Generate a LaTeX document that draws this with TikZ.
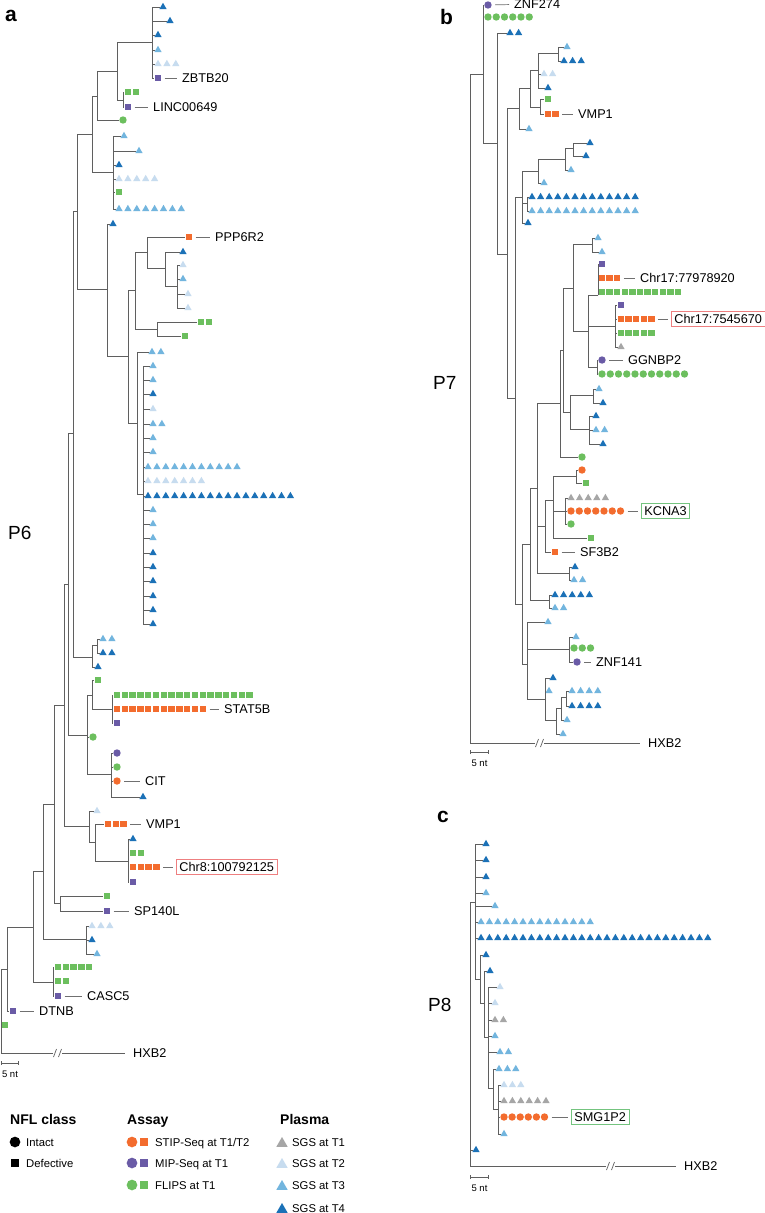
\documentclass[tikz,border=0pt]{standalone}
\usepackage{fontspec}
\setmainfont{Liberation Sans}
\usetikzlibrary{shapes.geometric, arrows.meta, calc}
\definecolor{Branch}{HTML}{5F5F5F}
\definecolor{Lead}{HTML}{707070}
\definecolor{StipOr}{HTML}{F36C2E}
\definecolor{MipPu}{HTML}{6A5BA6}
\definecolor{FlipGr}{HTML}{6CBF5E}
\definecolor{SgsGray}{HTML}{A6A6A6}
\definecolor{SgsPale}{HTML}{C7DCEF}
\definecolor{SgsMid}{HTML}{72B5DE}
\definecolor{SgsDeep}{HTML}{1B71B7}
\definecolor{BoxRed}{HTML}{EE7F80}
\definecolor{BoxGreen}{HTML}{74C47F}

% rows of tip markers: name, style, x, y, count, spacing
\def\tgap{8.9}\def\sgap{7.8}\def\cgap{8.2}
\newcommand{\tiprow}[6]{%
  \foreach \kk in {1,...,#5}{\node[#2] (#1-\kk) at ({#3+(\kk-1)*#6},#4) {};}}
\newcommand{\tris}[5]{\tiprow{#1}{#2}{#3}{#4}{#5}{\tgap}}
\newcommand{\sqrs}[5]{\tiprow{#1}{#2}{#3}{#4}{#5}{\sgap}}
\newcommand{\cirs}[5]{\tiprow{#1}{#2}{#3}{#4}{#5}{\cgap}}
% elbow branches from a parent to its children
\newcommand{\twig}[2]{\foreach \kid in {#2}{\draw[branch] (#1) |- (\kid);}}

\begin{document}
\begin{tikzpicture}[x=1pt, y=-1pt,
  branch/.style={draw=Branch, line width=0.75pt},
  lead/.style={draw=Lead, line width=0.7pt, shorten <=3pt, shorten >=5pt},
  boxlead/.style={lead, shorten >=3pt},
  hxb/.style={branch, shorten >=8pt},
  slash/.style={draw=Branch, line width=0.7pt},
  scalebar/.style={draw=Branch, line width=0.6pt, {Bar[width=4pt]}-{Bar[width=4pt]}},
  mk/.style={inner sep=0pt, outer sep=0.5pt, draw=none},
  tri/.style={mk, regular polygon, regular polygon sides=3, minimum size=8.4pt, yshift=-1pt},
  sqr/.style={mk, rectangle, minimum size=6.4pt},
  cir/.style={mk, circle, minimum size=7.4pt},
  triT1/.style={tri, fill=SgsGray}, triT2/.style={tri, fill=SgsPale},
  triT3/.style={tri, fill=SgsMid}, triT4/.style={tri, fill=SgsDeep},
  sqO/.style={sqr, fill=StipOr}, sqP/.style={sqr, fill=MipPu}, sqG/.style={sqr, fill=FlipGr},
  ciO/.style={cir, fill=StipOr}, ciP/.style={cir, fill=MipPu}, ciG/.style={cir, fill=FlipGr},
  lab/.style={font=\fontsize{12.7}{15}\selectfont, inner sep=0pt, text height=9.1pt, text depth=0pt, anchor=west},
  boxlab/.style={lab, inner sep=3pt, draw=#1, line width=0.8pt},
  scl/.style={font=\fontsize{9.5}{11}\selectfont, inner sep=0pt, text height=6.8pt, text depth=0pt},
  pid/.style={font=\fontsize{19}{22}\selectfont, inner sep=0pt, text height=13.6pt, text depth=0pt, anchor=west},
  plet/.style={font=\fontsize{21}{24}\selectfont\bfseries, inner sep=0pt, anchor=west},
  lghead/.style={font=\fontsize{14}{16}\selectfont\bfseries, inner sep=0pt, text height=10pt, text depth=0pt, anchor=west},
  lgtext/.style={font=\fontsize{11.3}{13}\selectfont, inner sep=0pt, text height=8.1pt, text depth=0pt, anchor=west},
  lgCi/.style={mk, circle, minimum size=10.7pt},
  lgSq/.style={mk, rectangle, minimum size=8.6pt},
  lgTri/.style={mk, regular polygon, regular polygon sides=3, minimum size=13pt, yshift=-1.5pt}
]
\useasboundingbox[fill=white] (0,0) rectangle (765,1213);

%% ---------------- panel a : P6 ----------------
\node[plet] (letA) at (5,16) {a};
\node[pid] (idA) at (8,533) {P6};
\def\tgap{8.9}\def\sgap{7.8}\def\cgap{8.2}
\tris{a1}{triT4}{163}{6}{1}
\tris{a2}{triT4}{170}{20}{1}
\tris{a3}{triT4}{158}{34}{1}
\tris{a4}{triT3}{158}{49}{1}
\tris{a5}{triT2}{158}{63}{3}
\sqrs{a6}{sqP}{158}{78}{1}
\sqrs{a7}{sqG}{128}{92}{2}
\sqrs{a8}{sqP}{128}{107}{1}
\cirs{a9}{ciG}{123}{120}{1}
\tris{a10}{triT3}{124}{135}{1}
\tris{a11}{triT3}{139}{150}{1}
\tris{a12}{triT4}{119}{164}{1}
\tris{a13}{triT2}{119}{178}{5}
\sqrs{a14}{sqG}{119}{192}{1}
\tris{a15}{triT3}{119}{208}{8}
\tris{a16}{triT4}{113}{223}{1}
\sqrs{a17}{sqO}{189}{237}{1}
\tris{a18}{triT4}{183}{251}{1}
\tris{a19}{triT2}{183}{264}{1}
\tris{a20}{triT3}{183}{278}{1}
\tris{a21}{triT2}{188}{293}{1}
\tris{a22}{triT2}{188}{307}{1}
\sqrs{a23}{sqG}{201}{322}{2}
\sqrs{a24}{sqG}{185}{336}{1}
\tris{a25}{triT3}{152}{351}{2}
\tris{a26}{triT3}{153}{365}{1}
\tris{a27}{triT3}{153}{379}{1}
\tris{a28}{triT4}{153}{393}{1}
\tris{a29}{triT2}{153}{408}{1}
\tris{a30}{triT3}{153}{423}{2}
\tris{a31}{triT3}{153}{437}{1}
\tris{a32}{triT3}{153}{451}{1}
\tris{a33}{triT3}{148}{466}{11}
\tris{a34}{triT2}{148}{480}{7}
\tris{a35}{triT4}{148}{495}{17}
\tris{a36}{triT3}{153}{509}{1}
\tris{a37}{triT3}{153}{523}{1}
\tris{a38}{triT3}{153}{537}{1}
\tris{a39}{triT4}{153}{552}{1}
\tris{a40}{triT4}{153}{566}{1}
\tris{a41}{triT4}{153}{580}{1}
\tris{a42}{triT4}{153}{595}{1}
\tris{a43}{triT4}{153}{609}{1}
\tris{a44}{triT4}{153}{623}{1}
\tris{a45}{triT3}{103}{638}{2}
\tris{a46}{triT4}{103}{652}{2}
\tris{a47}{triT4}{98}{666}{1}
\sqrs{a48}{sqG}{98}{680}{1}
\sqrs{a49}{sqG}{117}{695}{18}
\sqrs{a50}{sqO}{117}{709}{12}
\sqrs{a51}{sqP}{117}{723}{1}
\cirs{a52}{ciG}{93}{737}{1}
\cirs{a53}{ciP}{117}{753}{1}
\cirs{a54}{ciG}{117}{767}{1}
\cirs{a55}{ciO}{117}{781}{1}
\tris{a56}{triT4}{143}{796}{1}
\tris{a57}{triT2}{97}{810}{1}
\sqrs{a58}{sqO}{108}{824}{3}
\tris{a59}{triT4}{133}{838}{1}
\sqrs{a60}{sqG}{133}{853}{2}
\sqrs{a61}{sqO}{133}{867}{4}
\sqrs{a62}{sqP}{133}{882}{1}
\sqrs{a63}{sqG}{107}{896}{1}
\sqrs{a64}{sqP}{107}{911}{1}
\tris{a65}{triT2}{92}{925}{3}
\tris{a66}{triT4}{92}{939}{1}
\tris{a67}{triT3}{97}{953}{1}
\sqrs{a68}{sqG}{58}{967}{5}
\sqrs{a69}{sqG}{58}{981}{2}
\sqrs{a70}{sqP}{58}{996}{1}
\sqrs{a71}{sqP}{13}{1011}{1}
\sqrs{a72}{sqG}{5}{1025}{1}

\coordinate (aN1) at (152,42);   \coordinate (aN2) at (123,100);
\coordinate (aN3) at (117,71);   \coordinate (aN4) at (97,96);
\coordinate (aN5) at (113,172);  \coordinate (aN6) at (92,134);
\coordinate (aN7) at (77,211);   \coordinate (aN8) at (107,289);
\coordinate (aN9) at (128,356);  \coordinate (aN10) at (135,290);
\coordinate (aN11) at (147,252); \coordinate (aN12) at (165,268);
\coordinate (aN13) at (177,286); \coordinate (aN14) at (157,329);
\coordinate (aN15) at (137,423); \coordinate (aN16) at (143,494);
\coordinate (aN17) at (73,433);  \coordinate (aN18) at (92,657);
\coordinate (aN19) at (97,645);  \coordinate (aN20) at (68,584);
\coordinate (aN21) at (87,735);  \coordinate (aN22) at (92,695);
\coordinate (aN23) at (112,709); \coordinate (aN24) at (111,774);
\coordinate (aN25) at (64,705);  \coordinate (aN26) at (89,826);
\coordinate (aN27) at (95,842);  \coordinate (aN28) at (128,861);
\coordinate (aN29) at (54,804);  \coordinate (aN30) at (60,903);
\coordinate (aN31) at (43,871);  \coordinate (aN32) at (86,939);
\coordinate (aN33) at (33,927);  \coordinate (aN34) at (53,982);
\coordinate (aN35) at (7,969);   \coordinate (aR) at (1,1053);

\twig{aN1}{a1-1,a2-1,a3-1,a4-1,a5-1,a6-1}
\twig{aN2}{a7-1,a8-1}
\twig{aN3}{aN1,aN2}
\twig{aN4}{aN3,a9-1}
\twig{aN5}{a10-1,a11-1,a12-1,a13-1,a14-1,a15-1}
\twig{aN6}{aN4,aN5}
\twig{aN7}{aN6,aN8}
\twig{aN8}{a16-1,aN9}
\twig{aN9}{aN10,aN15}
\twig{aN10}{aN11,aN14}
\twig{aN11}{a17-1,aN12}
\twig{aN12}{a18-1,aN13}
\twig{aN13}{a19-1,a20-1,a21-1,a22-1}
\twig{aN14}{a23-1,a24-1}
\twig{aN15}{a25-1,aN16}
\twig{aN16}{a26-1,a27-1,a28-1,a29-1,a30-1,a31-1,a32-1,a33-1,a34-1,a35-1,a36-1,a37-1,a38-1,a39-1,a40-1,a41-1,a42-1,a43-1,a44-1}
\twig{aN17}{aN7,aN18}
\twig{aN18}{aN19,a47-1}
\twig{aN19}{a45-1,a46-1}
\twig{aN20}{aN17,aN21}
\twig{aN21}{aN22,a52-1,aN24}
\twig{aN22}{a48-1,aN23}
\twig{aN23}{a49-1,a50-1,a51-1}
\twig{aN24}{a53-1,a54-1,a55-1,a56-1}
\twig{aN25}{aN20,aN26}
\twig{aN26}{a57-1,aN27}
\twig{aN27}{a58-1,aN28}
\twig{aN28}{a59-1,a60-1,a61-1,a62-1}
\twig{aN29}{aN25,aN30}
\twig{aN30}{a63-1,a64-1}
\twig{aN31}{aN29,aN32}
\twig{aN32}{a65-1,a66-1,a67-1}
\twig{aN33}{aN31,aN34}
\twig{aN34}{a68-1,a69-1,a70-1}
\twig{aN35}{aN33,a71-1}
\twig{aR}{aN35,a72-1}

\node[lab] (aLzb) at (182,78) {ZBTB20};
\node[lab] (aLli) at (153,107) {LINC00649};
\node[lab] (aLpp) at (215,237) {PPP6R2};
\node[lab] (aLst) at (224,709) {STAT5B};
\node[lab] (aLci) at (145,781) {CIT};
\node[lab] (aLvm) at (146,824) {VMP1};
\node[boxlab=BoxRed] (aLch) at (176,867) {Chr8:100792125};
\node[lab] (aLsp) at (134,911) {SP140L};
\node[lab] (aLca) at (87,996) {CASC5};
\node[lab] (aLdt) at (39,1011) {DTNB};
\draw[lead] (a6-1) -- (aLzb);
\draw[lead] (a8-1) -- (aLli);
\draw[lead] (a17-1) -- (aLpp);
\draw[lead] (a50-12) -- (aLst);
\draw[lead] (a55-1) -- (aLci);
\draw[lead] (a58-3) -- (aLvm);
\draw[boxlead] (a61-4) -- (aLch);
\draw[lead] (a64-1) -- (aLsp);
\draw[lead] (a70-1) -- (aLca);
\draw[lead] (a71-1) -- (aLdt);

% outgroup and scale
\coordinate (aB1) at (53,1053); \coordinate (aB2) at (62,1053);
\node[lab] (aHx) at (133,1053) {HXB2};
\draw[branch] (aR) -- (aB1);
\draw[hxb] (aB2) -- (aHx);
\draw[slash] ($(aB1)+(0.5,4)$) -- ($(aB1)+(3.5,-4)$);
\draw[slash] ($(aB2)+(-3.5,4)$) -- ($(aB2)+(-0.5,-4)$);
\coordinate (aS1) at (1,1063); \coordinate (aS2) at (19,1063);
\draw[scalebar] (aS1) -- (aS2);
\node[scl] (aSt) at ($(aS1)!0.5!(aS2)+(0,11)$) {5 nt};

%% ---------------- panel b : P7 ----------------
\node[plet] (letB) at (440,16.5) {b};
\node[pid] (idB) at (433,383) {P7};
\def\tgap{8.6}\def\sgap{7.6}\def\cgap{8.25}
\cirs{b1}{ciP}{488}{5}{1}
\cirs{b2}{ciG}{488}{17}{6}
\tris{b3}{triT4}{510}{32}{2}
\tris{b4}{triT3}{567}{46}{1}
\tris{b5}{triT4}{564}{60}{3}
\tris{b6}{triT2}{544}{73}{2}
\tris{b7}{triT4}{548}{87}{1}
\sqrs{b8}{sqG}{548}{99}{1}
\sqrs{b9}{sqO}{548}{114}{2}
\tris{b10}{triT3}{529}{128}{1}
\tris{b11}{triT4}{590}{142}{1}
\tris{b12}{triT4}{586}{155}{1}
\tris{b13}{triT3}{571}{169}{1}
\tris{b14}{triT3}{544}{182}{1}
\tris{b15}{triT4}{532}{196}{13}
\tris{b16}{triT3}{532}{210}{13}
\tris{b17}{triT4}{528}{222}{1}
\tris{b18}{triT3}{598}{237}{1}
\tris{b19}{triT3}{602}{251}{1}
\sqrs{b20}{sqP}{602}{264}{1}
\sqrs{b21}{sqO}{602}{278}{3}
\sqrs{b22}{sqG}{602}{292}{11}
\sqrs{b23}{sqP}{621}{305}{1}
\sqrs{b24}{sqO}{621}{319}{5}
\sqrs{b25}{sqG}{621}{333}{5}
\tris{b26}{triT1}{621}{346}{1}
\cirs{b27}{ciP}{602}{360}{1}
\cirs{b28}{ciG}{602}{374}{11}
\tris{b29}{triT3}{599}{388}{1}
\tris{b30}{triT4}{603}{402}{1}
\tris{b31}{triT4}{596}{415}{1}
\tris{b32}{triT3}{596}{429}{2}
\tris{b33}{triT4}{603}{443}{1}
\cirs{b34}{ciG}{582}{457}{1}
\cirs{b35}{ciO}{582}{470}{1}
\sqrs{b36}{sqG}{586}{483}{1}
\tris{b37}{triT1}{571}{497}{5}
\cirs{b38}{ciO}{571}{511}{7}
\cirs{b39}{ciG}{571}{524}{1}
\sqrs{b40}{sqG}{591}{538}{1}
\sqrs{b41}{sqO}{555}{552}{1}
\tris{b42}{triT4}{575}{566}{1}
\tris{b43}{triT3}{574}{579}{2}
\tris{b44}{triT4}{555}{594}{5}
\tris{b45}{triT3}{555}{607}{2}
\tris{b46}{triT3}{548}{621}{1}
\tris{b47}{triT3}{576}{636}{1}
\cirs{b48}{ciG}{574}{648}{3}
\cirs{b49}{ciP}{577}{662}{1}
\tris{b50}{triT4}{553}{677}{1}
\tris{b51}{triT3}{549}{690}{1}
\tris{b52}{triT3}{572}{690}{4}
\tris{b53}{triT4}{572}{705}{4}
\tris{b54}{triT3}{567}{719}{1}
\tris{b55}{triT3}{563}{733}{1}

\coordinate (bN1) at (483,74);   \coordinate (bN2) at (497,143);
\coordinate (bN3) at (507,254);  \coordinate (bN4) at (519,108);
\coordinate (bN5) at (530,88);   \coordinate (bN6) at (538,70);
\coordinate (bN7) at (558,53);   \coordinate (bN8) at (540,107);
\coordinate (bN10) at (515,398); \coordinate (bN11) at (522,197);
\coordinate (bN12) at (538,171); \coordinate (bN13) at (565,159);
\coordinate (bN14) at (573,148); \coordinate (bN15) at (527,203);
\coordinate (bN20) at (522,604); \coordinate (bN21) at (530,544);
\coordinate (bN22) at (537,488); \coordinate (bN23) at (560,403);
\coordinate (bN24) at (563,350); \coordinate (bN25) at (573,288);
\coordinate (bN26) at (592,244); \coordinate (bN27) at (588,331);
\coordinate (bN28) at (598,295); \coordinate (bN29) at (615,326);
\coordinate (bN30) at (597,367); \coordinate (bN31) at (570,412);
\coordinate (bN32) at (593,395); \coordinate (bN33) at (589,429);
\coordinate (bN34) at (545,526); \coordinate (bN35) at (553,500);
\coordinate (bN36) at (576,476); \coordinate (bN37) at (565,511);
\coordinate (bN38) at (569,573); \coordinate (bN39) at (549,600);
\coordinate (bN40) at (527,664); \coordinate (bN41) at (569,649);
\coordinate (bN42) at (566,697); \coordinate (bN43) at (561,708);
\coordinate (bN44) at (556,720); \coordinate (bN45) at (545,699);
\coordinate (bR) at (470,743);

\twig{bR}{bN1}
\twig{bN1}{b1-1,b2-1,bN2}
\twig{bN2}{b3-1,bN3}
\twig{bN3}{bN4,bN10}
\twig{bN4}{bN5,b10-1}
\twig{bN5}{bN6,bN8}
\twig{bN6}{bN7,b6-1,b7-1}
\twig{bN7}{b4-1,b5-1}
\twig{bN8}{b8-1,b9-1}
\twig{bN10}{bN11,bN20}
\twig{bN11}{bN12,bN15,b17-1}
\twig{bN12}{bN13,b14-1}
\twig{bN13}{bN14,b13-1}
\twig{bN14}{b11-1,b12-1}
\twig{bN15}{b15-1,b16-1}
\twig{bN20}{bN21,bN40}
\twig{bN21}{bN22,bN39}
\twig{bN22}{bN23,bN34,bN38}
\twig{bN23}{bN24,b34-1}
\twig{bN24}{bN25,bN31}
\twig{bN25}{bN26,bN27}
\twig{bN26}{b18-1,b19-1}
\twig{bN27}{bN28,bN29,bN30}
\twig{bN28}{b20-1,b21-1,b22-1}
\twig{bN29}{b23-1,b24-1,b25-1,b26-1}
\twig{bN30}{b27-1,b28-1}
\twig{bN31}{bN32,bN33}
\twig{bN32}{b29-1,b30-1}
\twig{bN33}{b31-1,b32-1,b33-1}
\twig{bN34}{bN35,b41-1}
\twig{bN35}{bN36,bN37,b40-1}
\twig{bN36}{b35-1,b36-1}
\twig{bN37}{b37-1,b38-1,b39-1}
\twig{bN38}{b42-1,b43-1}
\twig{bN39}{b44-1,b45-1}
\twig{bN40}{b46-1,bN41,bN45}
\twig{bN41}{b47-1,b48-1,b49-1}
\twig{bN45}{b50-1,b51-1,bN44}
\twig{bN44}{bN43,b55-1}
\twig{bN43}{bN42,b54-1}
\twig{bN42}{b52-1,b53-1}

\node[lab] (bLzn) at (514,4) {ZNF274};
\node[lab] (bLvm) at (578,114) {VMP1};
\node[lab] (bLc1) at (640,278) {Chr17:77978920};
\node[boxlab=BoxRed] (bLc2) at (671,319) {Chr17:7545670};
\node[lab] (bLgg) at (628,360) {GGNBP2};
\node[boxlab=BoxGreen] (bLkc) at (641,511) {KCNA3};
\node[lab] (bLsf) at (580,552) {SF3B2};
\node[lab] (bLz1) at (596,662) {ZNF141};
\draw[lead] (b1-1) -- (bLzn);
\draw[lead] (b9-2) -- (bLvm);
\draw[lead] (b21-3) -- (bLc1);
\draw[boxlead] (b24-5) -- (bLc2);
\draw[lead] (b27-1) -- (bLgg);
\draw[boxlead] (b38-7) -- (bLkc);
\draw[lead] (b41-1) -- (bLsf);
\draw[lead] (b49-1) -- (bLz1);

\coordinate (bB1) at (535,743); \coordinate (bB2) at (544,743);
\node[lab] (bHx) at (648,743) {HXB2};
\draw[branch] (bR) -- (bB1);
\draw[hxb] (bB2) -- (bHx);
\draw[slash] ($(bB1)+(0.5,4)$) -- ($(bB1)+(3.5,-4)$);
\draw[slash] ($(bB2)+(-3.5,4)$) -- ($(bB2)+(-0.5,-4)$);
\coordinate (bS1) at (470,752); \coordinate (bS2) at (489,752);
\draw[scalebar] (bS1) -- (bS2);
\node[scl] (bSt) at ($(bS1)!0.5!(bS2)+(0,11)$) {5 nt};

%% ---------------- panel c : P8 ----------------
\node[plet] (letC) at (437,817) {c};
\node[pid] (idC) at (428,1005) {P8};
\def\tgap{8.4}\def\cgap{8.1}
\tris{c1}{triT4}{486}{843}{1}
\tris{c2}{triT4}{486}{859}{1}
\tris{c3}{triT4}{486}{876}{1}
\tris{c4}{triT3}{486}{892}{1}
\tris{c5}{triT3}{495}{905}{1}
\tris{c6}{triT3}{481}{921}{14}
\tris{c7}{triT4}{481}{937}{28}
\tris{c8}{triT4}{486}{954}{1}
\tris{c9}{triT4}{490}{970}{1}
\tris{c10}{triT2}{500}{986}{1}
\tris{c11}{triT2}{495}{1002}{1}
\tris{c12}{triT1}{495}{1019}{2}
\tris{c13}{triT3}{495}{1035}{1}
\tris{c14}{triT3}{500}{1051}{2}
\tris{c15}{triT3}{499}{1068}{3}
\tris{c16}{triT2}{504}{1084}{3}
\tris{c17}{triT1}{504}{1100}{6}
\cirs{c18}{ciO}{504}{1117}{6}
\tris{c19}{triT3}{504}{1133}{1}
\tris{c20}{triT4}{476}{1149}{1}

\coordinate (cN1) at (475,902);  \coordinate (cN2) at (480,979);
\coordinate (cN3) at (484,1003); \coordinate (cN4) at (488,1037);
\coordinate (cN5) at (493,1088); \coordinate (cN6) at (498,1109);
\coordinate (cR) at (470,1166);

\twig{cR}{cN1,c20-1}
\twig{cN1}{c1-1,c2-1,c3-1,c4-1,c5-1,c6-1,c7-1,cN2}
\twig{cN2}{c8-1,cN3}
\twig{cN3}{c9-1,cN4}
\twig{cN4}{c10-1,c11-1,c12-1,c13-1,c14-1,cN5}
\twig{cN5}{c15-1,cN6}
\twig{cN6}{c16-1,c17-1,c18-1,c19-1}

\node[boxlab=BoxGreen] (cLsm) at (571,1117) {SMG1P2};
\draw[boxlead] (c18-6) -- (cLsm);

\coordinate (cB1) at (606,1166); \coordinate (cB2) at (615,1166);
\node[lab] (cHx) at (684,1166) {HXB2};
\draw[branch] (cR) -- (cB1);
\draw[hxb] (cB2) -- (cHx);
\draw[slash] ($(cB1)+(0.5,4)$) -- ($(cB1)+(3.5,-4)$);
\draw[slash] ($(cB2)+(-3.5,4)$) -- ($(cB2)+(-0.5,-4)$);
\coordinate (cS1) at (470,1177); \coordinate (cS2) at (489,1177);
\draw[scalebar] (cS1) -- (cS2);
\node[scl] (cSt) at ($(cS1)!0.5!(cS2)+(0,11)$) {5 nt};

%% ---------------- legend ----------------
\node[lghead] (lgNfl) at (10,1119) {NFL class};
\node[lghead] (lgAs) at (127,1119) {Assay};
\node[lghead] (lgPl) at (280,1119) {Plasma};
\node[lgCi, fill=black] (lgIn) at (15,1142) {};
\node[lgtext] (lgInT) at (26,1142) {Intact};
\node[lgSq, fill=black] (lgDf) at (15,1163) {};
\node[lgtext] (lgDfT) at (26,1163) {Defective};
\node[lgCi, fill=StipOr] (lgOc) at (132,1142) {};
\node[lgSq, fill=StipOr] (lgOs) at (144,1142) {};
\node[lgtext] (lgOT) at (155,1142) {STIP-Seq at T1/T2};
\node[lgCi, fill=MipPu] (lgPc) at (132,1163) {};
\node[lgSq, fill=MipPu] (lgPs) at (144,1163) {};
\node[lgtext] (lgPT) at (155,1163) {MIP-Seq at T1};
\node[lgCi, fill=FlipGr] (lgGc) at (132,1185) {};
\node[lgSq, fill=FlipGr] (lgGs) at (144,1185) {};
\node[lgtext] (lgGT) at (155,1185) {FLIPS at T1};
\foreach \yy/\cc/\tp in {1142/SgsGray/T1,1163/SgsPale/T2,1185/SgsMid/T3,1208/SgsDeep/T4}{
  \node[lgTri, fill=\cc] (lg\tp) at (282,\yy) {};
  \node[lgtext] (lg\tp txt) at (292,\yy) {SGS at \tp};}
\end{tikzpicture}
\end{document}
